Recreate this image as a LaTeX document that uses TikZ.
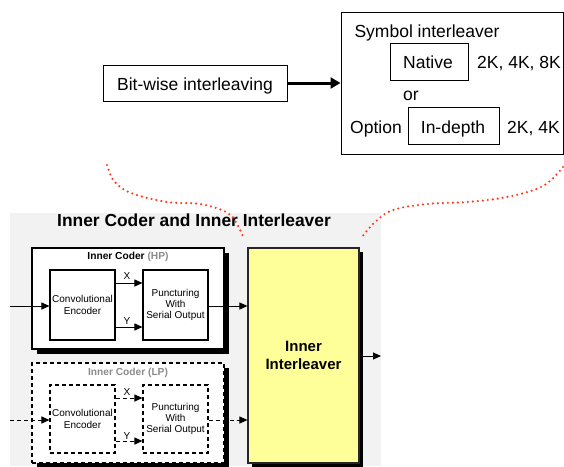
\documentclass[tikz,border=0pt]{standalone}
\usepackage{fontspec}
\setmainfont{Liberation Sans}
\usetikzlibrary{arrows.meta}
\definecolor{dotred}{HTML}{FF3B1F}
\definecolor{panelgray}{HTML}{F2F2F2}
\definecolor{labelgray}{HTML}{8C8C8C}
\definecolor{ileavefill}{HTML}{FFFF99}
\begin{document}
\begin{tikzpicture}[x=1pt,y=-1pt,
  bigtext/.style={font=\fontsize{17.5}{21}\selectfont},
  smalltext/.style={font=\fontsize{10}{11.3}\selectfont},
  topbox/.style={draw, line width=1pt, inner sep=0pt, fill=white},
  blockbox/.style={draw, line width=1.1pt, inner sep=0pt, align=center, smalltext},
  dashbox/.style={blockbox, dash pattern=on 4pt off 3pt},
  sig/.style={line width=1pt, -{Triangle[length=8pt,width=7pt]}},
  dsig/.style={sig, dash pattern=on 4pt off 3pt},
  dots/.style={dotred, line width=2.4pt, line cap=round, dash pattern=on 0pt off 5pt}
]
\useasboundingbox (0,0) rectangle (564,466);

% ---- upper part: bit-wise and symbol interleaving ----
\node[topbox, bigtext, minimum width=184pt, minimum height=36pt] (bitwise) at (195,83) {};
\node[bigtext, anchor=base] at (195,90) {Bit-wise interleaving};

\node[topbox, minimum width=222pt, minimum height=142pt] (symbox) at (452,83) {};
\node[bigtext, anchor=base] (symtitle) at (427,37.7) {Symbol interleaver};
\node[topbox, minimum width=78pt, minimum height=37pt] (native) at (429,61.5) {};
\node[bigtext, anchor=base] (nativetxt) at (428,68.3) {Native};
\node[bigtext, anchor=base west, inner sep=0pt] (nativesz) at (477,68.3) {2K, 4K, 8K};
\node[bigtext, anchor=base] (ortxt) at (411,100) {or};
\node[bigtext, anchor=base west, inner sep=0pt] (option) at (350,133) {Option};
\node[topbox, minimum width=91pt, minimum height=37pt] (indepth) at (453.5,125.5) {};
\node[bigtext, anchor=base] (indepthtxt) at (453,133) {In-depth};
\node[bigtext, anchor=base west, inner sep=0pt] (indepthsz) at (507,133) {2K, 4K};

\draw[line width=3pt, -{Triangle[length=10pt,width=11pt]}] (bitwise.east) -- (symbox.west);

% ---- lower part: inner coder and inner interleaver ----
\fill[panelgray] (10,213) rectangle (381,466);
\node[anchor=base, font=\fontsize{17.4}{20}\selectfont\bfseries] (title) at (194,226) {Inner Coder and Inner Interleaver};

% solid black shadows behind the three framed blocks
\fill[black] (37,253) rectangle (229,354);
\fill[black] (37,368) rectangle (229,470);
\fill[black] (252,252) rectangle (363,470);

% high priority path
\node[blockbox, fill=white, minimum width=192pt, minimum height=101pt] (hpbox) at (128,298.5) {};
\node[anchor=base, font=\fontsize{10.2}{12}\selectfont\bfseries] (hplabel) at (128,259) {Inner Coder \textcolor{labelgray}{(HP)}};
\node[blockbox, minimum width=65pt, minimum height=70pt] (convhp) at (82.5,305) {Convolutional\\Encoder};
\node[blockbox, minimum width=65pt, minimum height=70pt] (puncthp) at (175.5,305) {Puncturing\\With\\Serial Output};

% low priority path
\node[dashbox, fill=white, minimum width=192pt, minimum height=100pt] (lpbox) at (128,413) {};
\node[anchor=base, text=labelgray, font=\fontsize{10.2}{12}\selectfont\bfseries] (lplabel) at (128,375) {Inner Coder (LP)};
\node[dashbox, minimum width=65pt, minimum height=68pt] (convlp) at (82.5,419) {Convolutional\\Encoder};
\node[dashbox, minimum width=65pt, minimum height=68pt] (punctlp) at (175.5,419) {Puncturing\\With\\Serial Output};

% inner interleaver
\node[draw=black!85, line width=1.1pt, fill=ileavefill, align=center,
      minimum width=111pt, minimum height=215pt, inner sep=0pt,
      font=\fontsize{15}{18}\selectfont\bfseries] (ileave) at (303.5,355.5) {Inner\\Interleaver};

\coordinate (inhp) at (10,306);
\coordinate (inlp) at (10,420);
\coordinate (out) at (381,356);

% HP signals
\draw[sig] (inhp) -- (inhp -| convhp.west);
\draw[sig] (convhp.east |- 0,283) -- (puncthp.west |- 0,283);
\draw[sig] (convhp.east |- 0,327) -- (puncthp.west |- 0,327);
\node[smalltext, anchor=base] at (127,279) {X};
\node[smalltext, anchor=base] at (127,324) {Y};
\draw[sig] (puncthp.east |- inhp) -- (ileave.west |- inhp);

% LP signals
\draw[dsig] (inlp) -- (inlp -| convlp.west);
\draw[dsig] (convlp.east |- 0,398) -- (punctlp.west |- 0,398);
\draw[dsig] (convlp.east |- 0,441) -- (punctlp.west |- 0,441);
\node[smalltext, anchor=base, fill=white, inner sep=0.5pt] at (127,395) {X};
\node[smalltext, anchor=base, fill=white, inner sep=0.5pt] at (127,439) {Y};
\draw[dsig] (punctlp.east |- inlp) -- (ileave.west |- inlp);

\draw[sig] (ileave.east |- out) -- (out);

% dotted zoom-out curves
\draw[dots] plot[smooth, tension=0.6] coordinates {(107,165) (114,181) (131,193) (167,202) (200,204) (226,212) (237,224) (244,239)};
\draw[dots] plot[smooth, tension=0.6] coordinates {(563,167) (543,186) (507,197) (467,202) (427,204) (393,210) (375,222) (362,237)};
\end{tikzpicture}
\end{document}
